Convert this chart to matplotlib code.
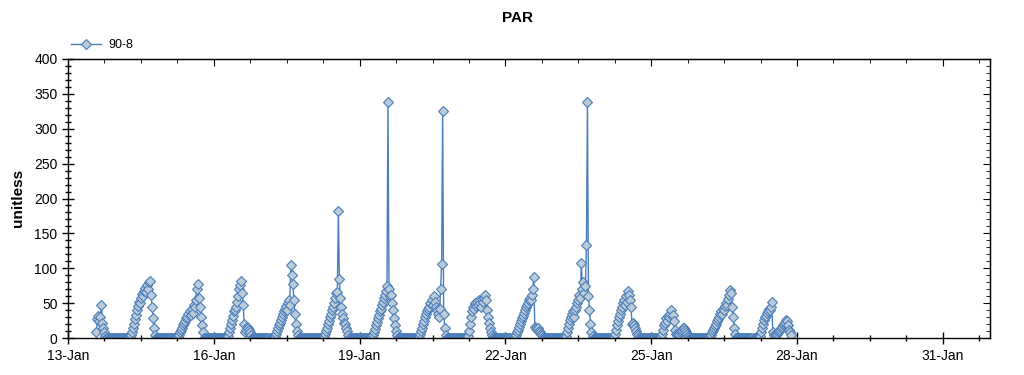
import numpy as np
import pandas as pd
import matplotlib
matplotlib.use("Agg")
import matplotlib.pyplot as plt
import matplotlib.dates as mdates
from matplotlib.ticker import MultipleLocator, FixedLocator

plt.rcParams['font.family'] = ['Liberation Sans', 'DejaVu Sans']

# half-hourly PAR readings for sensor 90-8, one list per day
# (Jan 13 starts at 14:00, Jan 27 stops at 21:00)
jan13 = [8, 27, 31, 25, 30, 48, 22, 14, 8, 3,
         0, 0, 0, 0, 0, 0, 0, 0, 0, 0]
jan14 = [0, 0, 0, 0, 0, 0, 0, 0, 0, 0, 0, 0,
         0, 2, 5, 9, 14, 20, 27, 33, 40, 46, 52, 50,
         58, 63, 60, 68, 72, 66, 76, 70, 80, 82, 62, 45,
         28, 14, 5, 0, 0, 0, 0, 0, 0, 0, 0, 0]
jan15 = [0, 0, 0, 0, 0, 0, 0, 0, 0, 0, 0, 0,
         0, 2, 5, 8, 11, 15, 18, 22, 25, 28, 30, 34,
         38, 33, 42, 36, 48, 44, 55, 70, 77, 58, 45, 30,
         18, 8, 0, 0, 0, 0, 0, 0, 0, 0, 0, 0]
jan16 = [0, 0, 0, 0, 0, 0, 0, 0, 0, 0, 0, 0,
         0, 0, 3, 8, 14, 20, 26, 32, 38, 40, 45, 52,
         60, 70, 76, 82, 65, 48, 20, 8, 12, 16, 15, 12,
         8, 4, 0, 0, 0, 0, 0, 0, 0, 0, 0, 0]
jan17 = [0, 0, 0, 0, 0, 0, 0, 0, 0, 0, 0, 0,
         2, 6, 10, 14, 18, 22, 26, 30, 34, 38, 42, 46,
         40, 50, 55, 48, 105, 90, 78, 55, 35, 20, 10, 4,
         0, 0, 0, 0, 0, 0, 0, 0, 0, 0, 0, 0]
jan18 = [0, 0, 0, 0, 0, 0, 0, 0, 0, 0, 0, 0,
         0, 2, 6, 10, 15, 20, 25, 30, 35, 40, 45, 50,
         58, 64, 66, 182, 85, 58, 45, 35, 28, 22, 20, 15,
         10, 5, 0, 0, 0, 0, 0, 0, 0, 0, 0, 0]
jan19 = [0, 0, 0, 0, 0, 0, 0, 0, 0, 0, 0, 0,
         2, 5, 9, 13, 18, 23, 28, 33, 38, 42, 48, 52,
         58, 62, 68, 75, 338, 70, 60, 62, 50, 40, 28, 18,
         10, 5, 0, 0, 0, 0, 0, 0, 0, 0, 0, 0]
jan20 = [0, 0, 0, 0, 0, 0, 0, 0, 0, 0, 0, 2,
         6, 10, 15, 20, 25, 30, 35, 38, 42, 45, 50, 55,
         48, 60, 52, 45, 40, 35, 30, 42, 70, 106, 326, 35,
         15, 5, 0, 0, 0, 0, 0, 0, 0, 0, 0, 0]
jan21 = [0, 0, 0, 0, 0, 0, 0, 0, 0, 0, 0, 3,
         10, 20, 30, 38, 45, 42, 50, 46, 52, 48, 55, 50,
         45, 56, 52, 58, 62, 55, 40, 30, 22, 14, 8, 4,
         2, 0, 0, 0, 0, 0, 0, 0, 0, 0, 0, 0]
jan22 = [0, 0, 0, 0, 0, 0, 0, 0, 0, 2, 5, 8,
         12, 16, 20, 24, 28, 32, 36, 40, 44, 48, 50, 54,
         58, 55, 62, 70, 87, 16, 14, 12, 15, 10, 8, 6,
         4, 2, 0, 0, 0, 0, 0, 0, 0, 0, 0, 0]
jan23 = [0, 0, 0, 0, 0, 0, 0, 0, 0, 0, 0, 0,
         3, 8, 14, 20, 26, 30, 35, 38, 30, 40, 45, 50,
         55, 62, 58, 107, 70, 80, 65, 75, 133, 338, 60, 40,
         20, 8, 3, 0, 0, 0, 0, 0, 0, 0, 0, 0]
jan24 = [0, 0, 0, 0, 0, 0, 0, 0, 0, 0, 0, 2,
         6, 12, 18, 24, 30, 35, 40, 45, 50, 55, 48, 60,
         52, 67, 62, 55, 45, 20, 22, 18, 14, 10, 6, 4,
         2, 0, 0, 0, 0, 0, 0, 0, 0, 0, 0, 0]
jan25 = [0, 0, 0, 0, 0, 0, 0, 0, 0, 0, 2, 6,
         12, 18, 22, 28, 25, 32, 30, 35, 40, 33, 25, 12,
         6, 4, 5, 6, 8, 10, 12, 14, 15, 12, 9, 6,
         3, 1, 0, 0, 0, 0, 0, 0, 0, 0, 0, 0]
jan26 = [0, 0, 0, 0, 0, 0, 0, 0, 0, 0, 2, 5,
         8, 11, 14, 17, 20, 24, 27, 30, 34, 38, 35, 42,
         40, 46, 50, 48, 56, 62, 69, 65, 45, 30, 15, 6,
         0, 0, 0, 0, 0, 0, 0, 0, 0, 0, 0, 0]
jan27 = [0, 0, 0, 0, 0, 0, 0, 0, 0, 0, 0, 3,
         8, 14, 20, 26, 30, 32, 36, 38, 42, 40, 45, 52,
         8, 4, 3, 5, 6, 8, 10, 12, 14, 16, 18, 20,
         22, 26, 24, 18, 12, 8, 4]

par = np.concatenate([jan13, jan14, jan15, jan16, jan17, jan18, jan19, jan20,
                      jan21, jan22, jan23, jan24, jan25, jan26, jan27])
times = pd.date_range("2013-01-13 14:00", periods=len(par), freq="30min")

blue = '#4a7ebb'
fill = '#bccbd8'

fig = plt.figure(figsize=(10.24, 3.75), dpi=100)
ax = fig.add_axes([68/1024, 1 - 338/375, (990 - 68)/1024, (338 - 59)/375])

ax.plot(times, par, color=blue, lw=1, marker='D', ms=5, mfc=fill,
        mec=blue, mew=0.8, label='90-8')

t0 = mdates.date2num(pd.Timestamp("2013-01-13"))
ax.set_xlim(t0, t0 + 18.97)
ax.set_ylim(0, 400)

major_x = FixedLocator(t0 + np.arange(0, 19, 3))
minor_x = FixedLocator(t0 + np.arange(0, 19.5, 0.75))
ax.xaxis.set_major_locator(major_x)
ax.xaxis.set_major_formatter(mdates.DateFormatter('%d-%b'))
ax.xaxis.set_minor_locator(minor_x)
ax.yaxis.set_major_locator(MultipleLocator(50))
ax.yaxis.set_minor_locator(MultipleLocator(10))

ax.tick_params(which='major', direction='inout', length=8, width=1, labelsize=10, colors='black')
ax.tick_params(which='minor', direction='inout', length=4, width=1)
ax.tick_params(axis='x', pad=4)

# ticks on top and right point inwards
secx = ax.secondary_xaxis('top')
secx.xaxis.set_major_locator(FixedLocator(t0 + np.arange(0, 19, 3)))
secx.xaxis.set_minor_locator(FixedLocator(t0 + np.arange(0, 19.5, 0.75)))
secx.tick_params(which='major', direction='in', length=5, labeltop=False)
secx.tick_params(which='minor', direction='in', length=3)
secy = ax.secondary_yaxis('right')
secy.yaxis.set_major_locator(MultipleLocator(50))
secy.yaxis.set_minor_locator(MultipleLocator(10))
secy.tick_params(which='major', direction='in', length=5, labelright=False)
secy.tick_params(which='minor', direction='in', length=3)

for sp in ax.spines.values():
    sp.set_linewidth(1)

fig.text(0.505, 1 - 18/375, 'PAR', ha='center', va='center', fontsize=11, fontweight='bold')
fig.text(18/1024, 1 - 198/375, 'unitless', ha='center', va='center', rotation=90,
         fontsize=11, fontweight='bold')

fig.legend(loc='center left', bbox_to_anchor=(68/1024, 1 - 45/375), frameon=False,
           fontsize=9, handlelength=2.4, handletextpad=0.6, borderaxespad=0, borderpad=0.2)

fig.savefig('out.png', dpi=100)
